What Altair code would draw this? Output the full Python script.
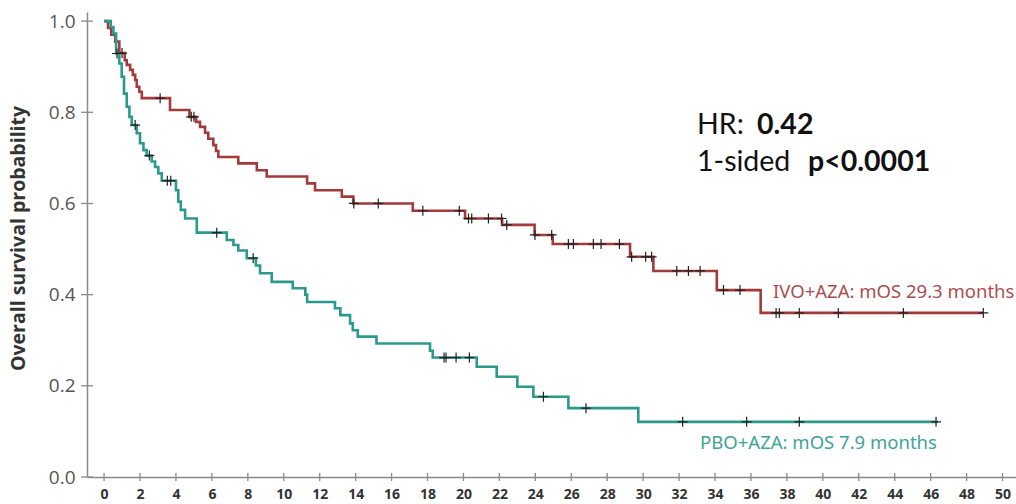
import altair as alt
import pandas as pd

# IVO+AZA arm: step times (months) and survival probability after each step
ivo_times = [0.0, 0.22, 0.40, 0.62, 0.85, 1.15, 1.26, 1.45, 1.60, 1.73, 1.82, 1.96,
             2.10, 3.67, 4.75, 5.12, 5.34, 5.62, 5.80, 6.08, 6.23, 6.36, 7.47, 8.50,
             9.05, 11.30, 11.74, 13.23, 13.87, 17.18, 20.09, 22.15, 23.96, 24.97,
             29.27, 30.57, 34.10, 36.54]
ivo_surv = [1.0, 0.985, 0.970, 0.955, 0.930, 0.914, 0.904, 0.893, 0.882, 0.871, 0.856,
            0.845, 0.831, 0.805, 0.790, 0.779, 0.768, 0.755, 0.742, 0.728, 0.715, 0.702,
            0.688, 0.673, 0.659, 0.644, 0.629, 0.615, 0.600, 0.584, 0.567, 0.553, 0.531,
            0.511, 0.483, 0.452, 0.410, 0.360]
ivo_last = 48.93
ivo_censored = [1.0, 3.12, 4.85, 5.0, 13.9, 15.26, 17.74, 19.77, 20.28, 20.46, 21.39,
                22.12, 22.41, 23.98, 24.91, 25.84, 26.12, 27.23, 27.66, 28.68, 29.36,
                30.14, 30.47, 31.87, 32.52, 33.17, 34.47, 35.39, 37.40, 37.58, 38.69,
                40.86, 44.48, 48.93]

# PBO+AZA arm
pbo_times = [0.0, 0.37, 0.52, 0.67, 0.85, 0.98, 1.11, 1.26, 1.41, 1.54, 1.82, 2.00,
             2.19, 2.37, 2.65, 2.84, 3.02, 3.21, 4.00, 4.13, 4.27, 4.51, 5.16, 6.83,
             7.20, 7.47, 7.94, 8.45, 8.68, 9.33, 10.50, 11.20, 11.30, 12.85, 13.15,
             13.69, 13.84, 14.12, 15.16, 18.14, 18.29, 20.74, 21.85, 23.00, 23.89,
             25.84, 29.73]
pbo_surv = [1.0, 0.987, 0.973, 0.929, 0.907, 0.878, 0.841, 0.812, 0.790, 0.772, 0.754,
            0.732, 0.717, 0.705, 0.692, 0.680, 0.666, 0.650, 0.629, 0.604, 0.586, 0.567,
            0.536, 0.520, 0.509, 0.497, 0.480, 0.464, 0.447, 0.428, 0.414, 0.400, 0.384,
            0.370, 0.355, 0.337, 0.322, 0.308, 0.293, 0.277, 0.262, 0.242, 0.220, 0.198,
            0.176, 0.151, 0.121]
pbo_last = 46.4
pbo_censored = [0.72, 1.73, 2.52, 3.52, 3.71, 6.27, 8.30, 18.92, 19.03, 19.59, 20.33,
                24.45, 26.82, 32.2, 35.76, 38.69, 46.3]

x_ticks = list(range(0, 51, 2))
y_ticks = [0.0, 0.2, 0.4, 0.6, 0.8, 1.0]

RED = "#a33b3b"
TEAL = "#2b9a8c"
AXIS_GREY = "#8a8a8a"

assert len(ivo_times) == len(ivo_surv)
assert len(pbo_times) == len(pbo_surv)


def step_rows(arm, times, surv, last):
    rows = [{"arm": arm, "t": t, "s": s} for t, s in zip(times, surv)]
    rows.append({"arm": arm, "t": last, "s": surv[-1]})
    return rows


def surv_at(times, surv, t):
    value = surv[0]
    for ti, si in zip(times, surv):
        if ti <= t:
            value = si
    return value


curve_df = pd.DataFrame(step_rows("IVO+AZA", ivo_times, ivo_surv, ivo_last)
                        + step_rows("PBO+AZA", pbo_times, pbo_surv, pbo_last))

censor_df = pd.DataFrame(
    [{"arm": "IVO+AZA", "t": t, "s": surv_at(ivo_times, ivo_surv, t)} for t in ivo_censored]
    + [{"arm": "PBO+AZA", "t": t, "s": surv_at(pbo_times, pbo_surv, t)} for t in pbo_censored]
)

X_MIN, X_MAX = -0.95, 50.75
Y_MIN, Y_MAX = 0.0, 1.02
xs = alt.Scale(domain=[X_MIN, X_MAX], nice=False, zero=False)
ys = alt.Scale(domain=[Y_MIN, Y_MAX], nice=False, zero=False)

x_axis = alt.Axis(values=x_ticks, title=None, ticks=False, grid=False,
                  domainColor=AXIS_GREY, domainWidth=1.5,
                  labelFont="Open Sans", labelFontSize=14, labelFontWeight="bold",
                  labelColor="#333333", labelPadding=10, labelFlush=False)
y_axis = alt.Axis(values=y_ticks, format=".1f", title="Overall survival probability",
                  ticks=False, grid=False, domainColor=AXIS_GREY, domainWidth=1.5,
                  labelFont="Open Sans", labelFontSize=19, labelColor="#555555",
                  labelPadding=12, labelFlush=False,
                  titleFont="Open Sans", titleFontSize=19.5, titleFontWeight="bold",
                  titleColor="#333333", titleAngle=-90, titleX=-69, titleY=226,
                  titleAlign="center", titleBaseline="middle")


def X(field=None, datum=None):
    if datum is not None:
        return alt.X(datum=datum, type="quantitative", scale=xs, axis=x_axis)
    return alt.X(field, type="quantitative", scale=xs, axis=x_axis)


def Y(field=None, datum=None):
    if datum is not None:
        return alt.Y(datum=datum, type="quantitative", scale=ys, axis=y_axis)
    return alt.Y(field, type="quantitative", scale=ys, axis=y_axis)


color_scale = alt.Scale(domain=["IVO+AZA", "PBO+AZA"], range=[RED, TEAL])

lines = alt.Chart(curve_df).mark_line(interpolate="step-after", strokeWidth=2.6).encode(
    x=X("t"),
    y=Y("s"),
    color=alt.Color("arm:N", scale=color_scale, legend=None),
    detail="arm:N",
)

plus = "M-1,0L1,0M0,-1L0,1"
censors = alt.Chart(censor_df).mark_point(
    shape=plus, size=100, stroke="#222222", strokeWidth=1.2, filled=False, opacity=1
).encode(x=X("t"), y=Y("s"))

# crossing tick marks on both axes
xtick_df = pd.DataFrame({"t": x_ticks})
xticks = alt.Chart(xtick_df).mark_rule(color=AXIS_GREY, strokeWidth=1.3,
                                       yOffset=-4, y2Offset=4).encode(
    x=X("t"), y=Y(datum=0), y2=alt.Y2(datum=0),
)
ytick_df = pd.DataFrame({"s": y_ticks})
yticks = alt.Chart(ytick_df).mark_rule(color=AXIS_GREY, strokeWidth=1.3,
                                       xOffset=-6, x2Offset=6).encode(
    y=Y("s"), x=X(datum=X_MIN), x2=alt.X2(datum=X_MIN),
)

# arm labels
arm_label_df = pd.DataFrame({
    "t": [37.23, 33.17],
    "s": [0.406, 0.0746],
    "label": ["IVO+AZA: mOS 29.3 months", "PBO+AZA: mOS 7.9 months"],
    "arm": ["IVO+AZA", "PBO+AZA"],
})
arm_labels = alt.Chart(arm_label_df).mark_text(
    align="left", baseline="middle", font="Noto Sans", fontSize=18.5, opacity=0.9
).encode(
    x=X("t"), y=Y("s"), text="label:N",
    color=alt.Color("arm:N", scale=color_scale, legend=None),
)

# hazard ratio annotation: regular prefix followed by a bold value
stat_t = 33.0
hr_s, p_s = 0.772, 0.691
stat_font = dict(align="left", baseline="middle", font="Lato", fontSize=28.5, color="#111111")


def stat_text(text, s, dx=0, bold=False):
    df = pd.DataFrame({"t": [stat_t], "s": [s], "text": [text]})
    mark = alt.Chart(df).mark_text(dx=dx, fontWeight="bold" if bold else "normal", **stat_font)
    return mark.encode(x=X("t"), y=Y("s"), text="text:N")


stats = alt.layer(
    stat_text("HR:", hr_s),
    stat_text("0.42", hr_s, dx=60, bold=True),
    stat_text("1-sided", p_s),
    stat_text("p<0.0001", p_s, dx=111, bold=True),
)

chart = alt.layer(
    xticks, yticks, lines, censors, arm_labels, stats
).properties(
    width=929, height=465,
    padding={"left": 87, "top": 12, "right": 0, "bottom": 27},
    autosize=alt.AutoSizeParams(type="none"),
    background="white",
).configure_view(stroke=None)

chart.save("out.html", embed_options={"renderer": "svg", "actions": False})
